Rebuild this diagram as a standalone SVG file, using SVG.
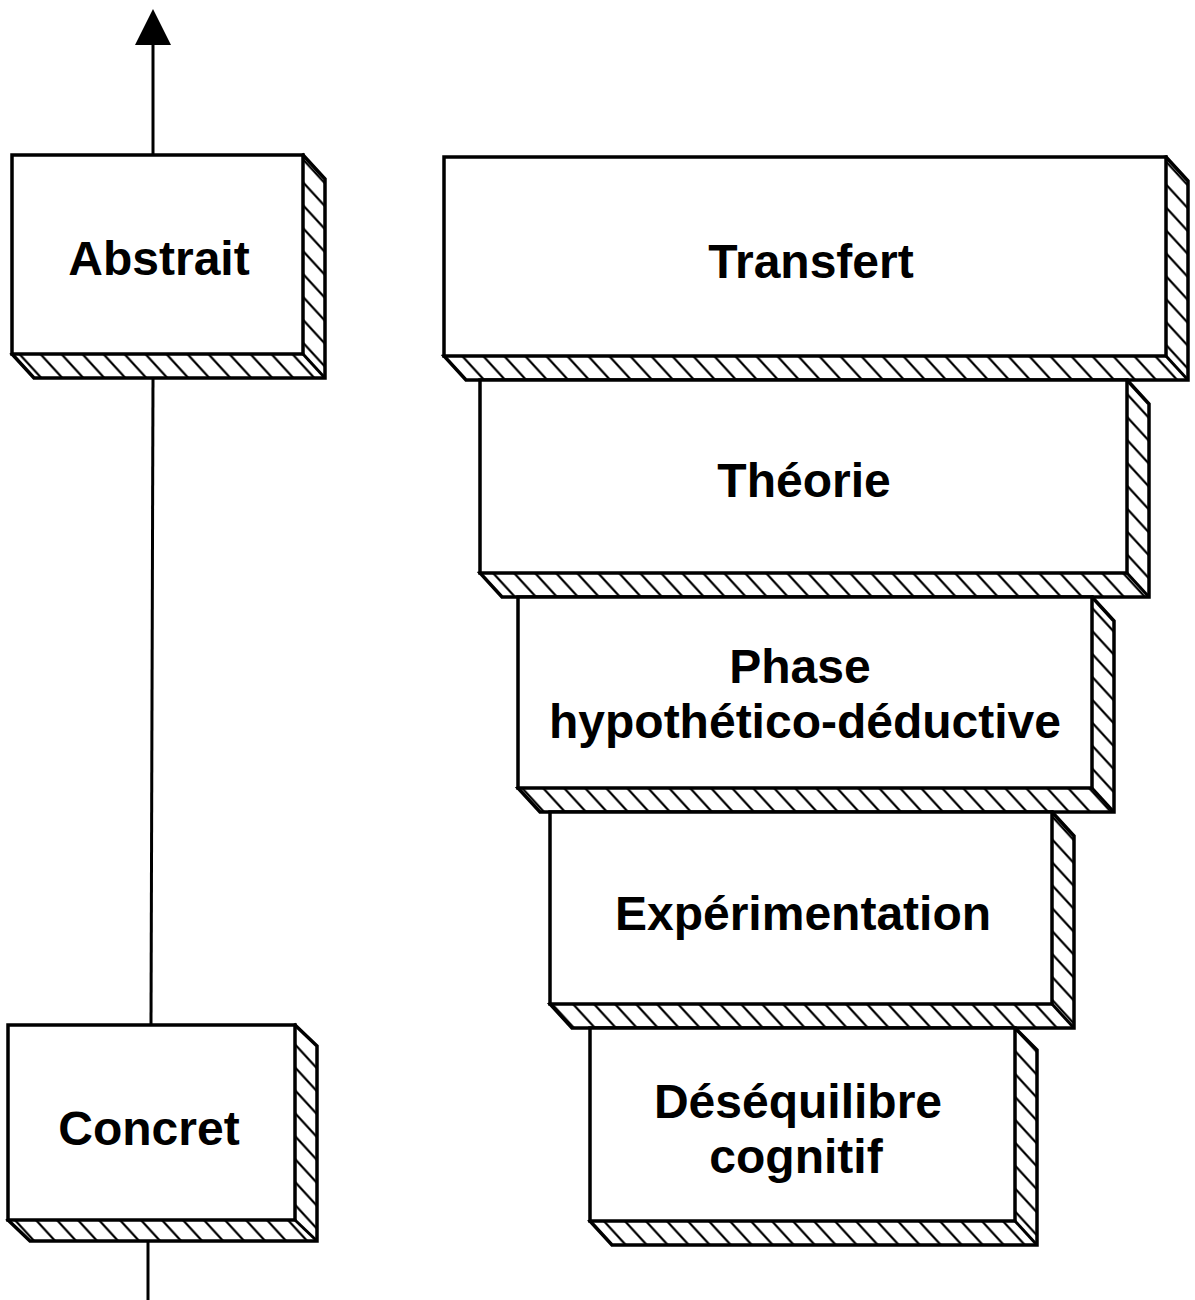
<svg xmlns="http://www.w3.org/2000/svg" width="1195" height="1300" viewBox="0 0 1195 1300">
<style>
.front{fill:#fff;stroke:#000;stroke-width:3.5;stroke-linejoin:miter}
.slab{fill:url(#hatch);stroke:#000;stroke-width:3.5;stroke-linejoin:miter}
.edge{stroke:#000;stroke-width:3}
.lbl{font-family:"Liberation Sans",Arial,Helvetica,sans-serif;font-weight:bold;font-size:48px;fill:#000;text-anchor:middle}
.conn{stroke:#000;stroke-width:3;fill:none}
</style>
<defs>
<pattern id="hatch" patternUnits="userSpaceOnUse" width="21" height="24" patternTransform="skewX(42.5)">
<rect x="-1" y="-1" width="23" height="26" fill="#fff"/>
<line x1="10" y1="-2" x2="10" y2="26" stroke="#000" stroke-width="3"/>
</pattern>
<marker id="arrow" markerUnits="userSpaceOnUse" markerWidth="40" markerHeight="40" refX="36" refY="18" orient="auto" viewBox="0 0 40 36">
<polygon points="4,0 40,18 4,36" fill="#000"/>
</marker>
</defs>

<g id="connectors">
<line class="conn" x1="153" y1="156" x2="153" y2="13" marker-end="url(#arrow)"/>
<line class="conn" x1="153" y1="378" x2="151" y2="1025"/>
<line class="conn" x1="148" y1="1241" x2="148" y2="1300"/>
</g>

<g id="abstrait">
<polygon class="slab" points="303,155 325,179 325,378 34,378 12,354"/>
<line class="edge" x1="303" y1="354" x2="325" y2="378"/>
<rect class="front" x="12" y="155" width="291" height="199"/>
<text class="lbl" x="159" y="275">Abstrait</text>
</g>

<g id="concret">
<polygon class="slab" points="295,1025 317,1046 317,1241 30,1241 8,1220"/>
<line class="edge" x1="295" y1="1220" x2="317" y2="1241"/>
<rect class="front" x="8" y="1025" width="287" height="195"/>
<text class="lbl" x="149" y="1145">Concret</text>
</g>

<g id="transfert">
<polygon class="slab" points="1166,157 1188,181 1188,380 466,380 444,356"/>
<line class="edge" x1="1166" y1="356" x2="1188" y2="380"/>
<rect class="front" x="444" y="157" width="722" height="199"/>
<text class="lbl" x="811" y="278">Transfert</text>
</g>

<g id="theorie">
<polygon class="slab" points="1127,380 1149,404 1149,597 502,597 480,573"/>
<line class="edge" x1="1127" y1="573" x2="1149" y2="597"/>
<rect class="front" x="480" y="380" width="647" height="193"/>
<text class="lbl" x="804" y="497">Théorie</text>
</g>

<g id="phase">
<polygon class="slab" points="1092,597 1114,621 1114,812 540,812 518,788"/>
<line class="edge" x1="1092" y1="788" x2="1114" y2="812"/>
<rect class="front" x="518" y="597" width="574" height="191"/>
<text class="lbl" x="800" y="683">Phase</text>
<text class="lbl" x="805" y="738">hypothético-déductive</text>
</g>

<g id="experimentation">
<polygon class="slab" points="1052,812 1074,836 1074,1028 572,1028 550,1004"/>
<line class="edge" x1="1052" y1="1004" x2="1074" y2="1028"/>
<rect class="front" x="550" y="812" width="502" height="192"/>
<text class="lbl" x="803" y="930">Expérimentation</text>
</g>

<g id="desequilibre">
<polygon class="slab" points="1015,1028 1037,1050 1037,1245 612,1245 590,1221"/>
<line class="edge" x1="1015" y1="1221" x2="1037" y2="1245"/>
<rect class="front" x="590" y="1028" width="425" height="193"/>
<text class="lbl" x="798" y="1118">Déséquilibre</text>
<text class="lbl" x="796" y="1173">cognitif</text>
</g>
</svg>
